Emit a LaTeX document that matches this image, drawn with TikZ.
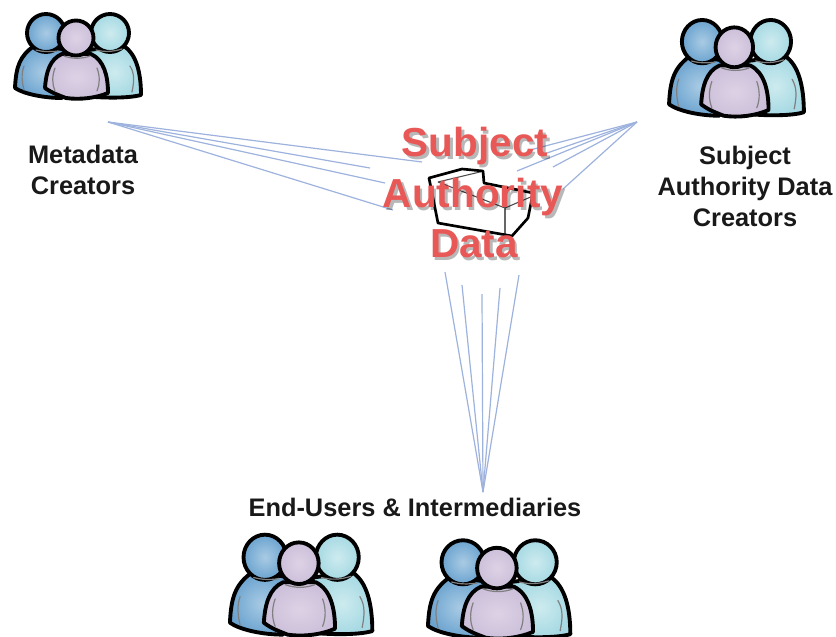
\documentclass[tikz,border=0pt]{standalone}
\usepackage{fontspec}
\setmainfont{Liberation Sans}
\definecolor{lnblue}{HTML}{9DB2DC}
\definecolor{redtxt}{HTML}{E85856}
\definecolor{blueIn}{HTML}{A9CBE4}
\definecolor{blueOut}{HTML}{6BA3CF}
\definecolor{cyanIn}{HTML}{CDEBEF}
\definecolor{cyanOut}{HTML}{A6D9E3}
\definecolor{lilacIn}{HTML}{DDD2E5}
\definecolor{lilacOut}{HTML}{CCBFDA}
\tikzset{
  outl/.style={draw=black,line width=2.9bp,line join=round},
  armline/.style={draw=black!50,line width=0.9bp,line cap=round},
  tie/.style={draw=lnblue,line width=0.9bp},
  lab/.style={font=\fontsize{19.1}{23.3}\selectfont\bfseries,align=center,text=black!90},
  big/.style={font=\fontsize{30.5}{32}\selectfont\bfseries,inner sep=0pt},
  blueP/.style={outl,inner color=blueIn,outer color=blueOut},
  cyanP/.style={outl,inner color=cyanIn,outer color=cyanOut},
  lilacP/.style={outl,inner color=lilacIn,outer color=lilacOut},
  crowd/.pic={
    \path[blueP] (34,46) .. controls (20,56) and (16,66) .. (15,88) .. controls (24,94) and (44,98) .. (62,98) -- (72,50) -- cycle;
    \path[blueP] (46,33) circle (19);
    \path[cyanP] (124,46) .. controls (136,54) and (141,72) .. (141,95) .. controls (130,98) and (110,98) .. (95,97) -- (88,50) -- cycle;
    \path[cyanP] (110,33) circle (19);
    \draw[armline] (24,66) .. controls (21,74) and (22,82) .. (24,90);
    \draw[armline] (130,66) .. controls (135,74) and (134,82) .. (132,92);
    \draw[armline] (36,50) .. controls (44,52) and (50,52) .. (58,51);
    \draw[armline] (96,50) .. controls (104,52) and (112,52) .. (122,49);
    \path[lilacP] (62,54) .. controls (50,59) and (46,72) .. (45,88) .. controls (52,93) and (58,95) .. (66,98) .. controls (80,100) and (96,98) .. (108,93) .. controls (108,76) and (104,60) .. (91,54) -- cycle;
    \path[lilacP] (76,38) circle (17.5);
    \draw[armline] (55,68) .. controls (52,76) and (52,84) .. (55,91);
    \draw[armline] (97,68) .. controls (100,76) and (100,84) .. (97,91);
    \draw[armline] (64,56) .. controls (72,59) and (82,59) .. (90,56);
  }
}
\newcommand{\bigword}[4]{%
  \node[big,text=black,opacity=.28] (#4s) at (#1+2.5,#2+3) {#3};
  \node[big,text=redtxt] (#4) at (#1,#2) {#3};
}
\begin{document}
\begin{tikzpicture}[x=0.75bp,y=-0.75bp]
\useasboundingbox (0,0) rectangle (836,637);

% groups
\pic[xscale=1,yscale=1] at (0,0) {crowd};
\pic[xscale=1.07,yscale=1.14] at (653,4) {crowd};
\pic[xscale=1.13,yscale=1.19] at (213,518) {crowd};
\pic[xscale=1.13,yscale=1.16] at (411,524) {crowd};

% labels
\node[lab] (meta) at (83,170) {Metadata\\Creators};
\node[lab] (sadc) at (745,186) {Subject\\Authority Data\\Creators};
\node[lab] (users) at (415,507) {End-Users \& Intermediaries};

% hubs
\coordinate (hubL) at (108,122);
\coordinate (hubR) at (637,122);
\coordinate (hubB) at (483,492);
\foreach \n/\p in {l1/{422,162},l2/{370,168},l3/{385,183},l4/{393,210},
                   r1/{530,150},r2/{547,153},r3/{517,171},r4/{553,167},r5/{563,189},
                   b1/{445,272},b2/{462,285},b3/{482,294},b4/{500,288},b5/{519,275}}{
  \coordinate (\n) at (\p);
}
\foreach \n in {l1,l2,l3,l4} \draw[tie] (hubL) -- (\n);
\foreach \n in {r1,r2,r3,r4,r5} \draw[tie] (hubR) -- (\n);
\foreach \n in {b1,b2,b3,b4,b5} \draw[tie] (hubB) -- (\n);

% box
\draw[black!70,line width=0.8bp] (438,182) -- (484,171);
\draw[black!70,line width=0.8bp] (438,182) -- (505,208) -- (533,196);
\draw[black!60,line width=0.8bp] (505,208) -- (505,235);
\draw[black,line width=2bp,line join=round] (429,178) -- (462,169) -- (483,171) -- (484,183) -- (533,193) -- (528,218) -- (512,236) -- (438,223) -- cycle;

% title
\bigword{475}{146}{Subject}{tS}
\bigword{473}{197}{Authority}{tA}
\bigword{474}{244}{Data}{tD}
\end{tikzpicture}
\end{document}
